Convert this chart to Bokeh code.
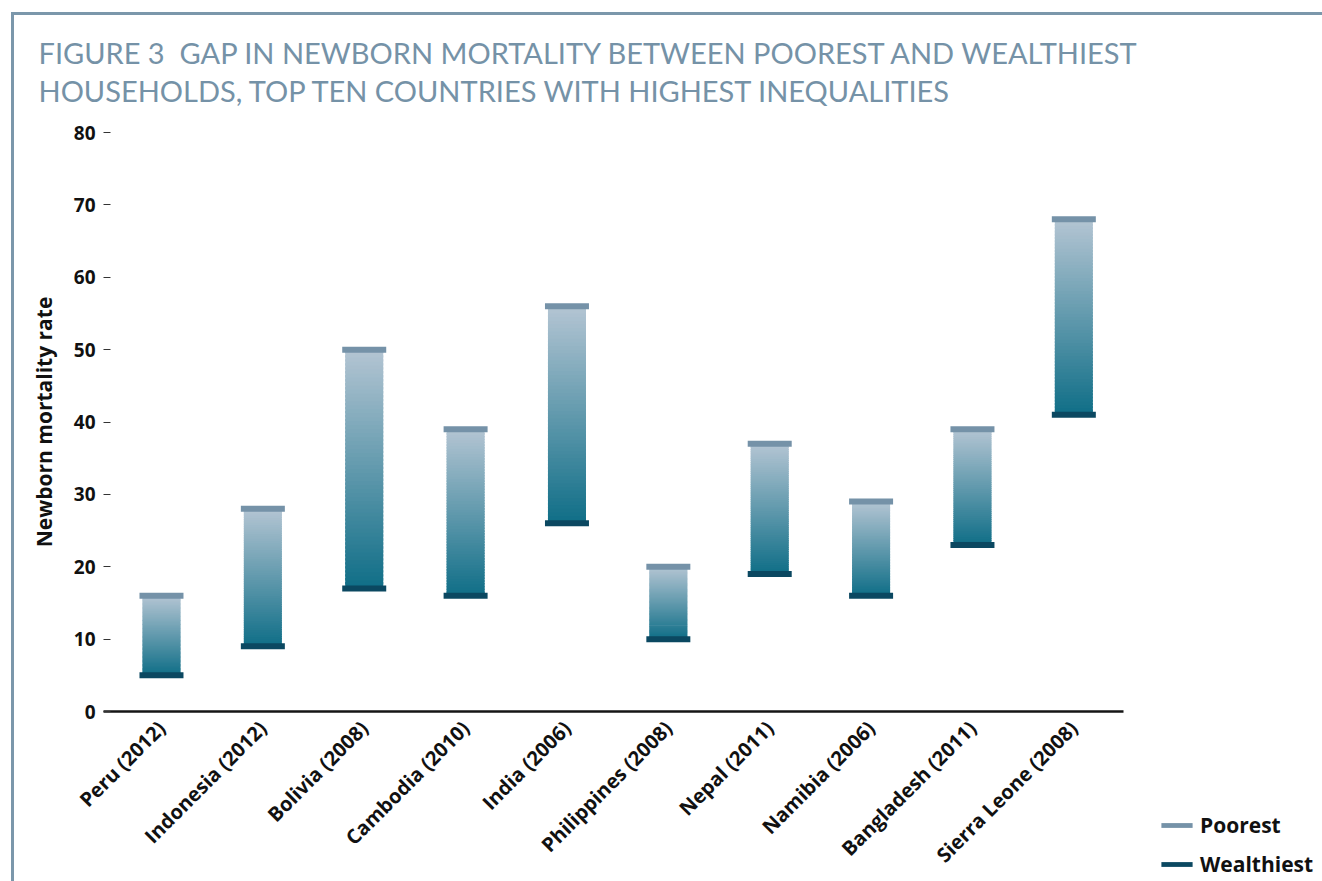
import numpy as np
from bokeh.plotting import figure
from bokeh.layouts import row
from bokeh.models import Range1d, FixedTicker, Legend, LegendItem, ColumnDataSource, Title
from bokeh.embed import file_html
from bokeh.resources import INLINE

# ---- data ----
countries = ["Peru (2012)", "Indonesia (2012)", "Bolivia (2008)", "Cambodia (2010)", "India (2006)",
             "Philippines (2008)", "Nepal (2011)", "Namibia (2006)", "Bangladesh (2011)", "Sierra Leone (2008)"]
poorest = [16, 28, 50, 39, 56, 20, 37, 29, 39, 68]
wealthiest = [5, 9, 17, 16, 26, 10, 19, 16, 23, 41]
y_ticks = [0, 10, 20, 30, 40, 50, 60, 70, 80]
series_names = ["Poorest", "Wealthiest"]
title_text = ("FIGURE 3 \u00a0GAP IN NEWBORN MORTALITY BETWEEN POOREST AND WEALTHIEST\n"
              "HOUSEHOLDS, TOP TEN COUNTRIES WITH HIGHEST INEQUALITIES")

# ---- styles ----
TFONT = "Lato"
FONT = "Open Sans"
FS_TICK = "19px"
FS_X = "20px"
FS = "21px"
TITLE_COLOR = "#7592a7"
FRAME_COLOR = "#7b97ab"
POOR_COLOR = "#7592a8"
WEALTH_COLOR = "#0b4861"
TEXT_COLOR = "#111111"
GRAD_TOP = (180, 197, 211)
GRAD_BOT = (15, 110, 135)

OX, OY = 14, 15          # content offset on the page (after css border)
LIFT = 6                 # main canvas is lifted a little under the border line
SPLIT = 1150             # page x where the legend panel starts
PY = OY - LIFT
W, H = SPLIT - OX, 881 - PY
FL, FR, FT, FB = 103 - OX, 1123 - OX, 132 - PY, 711 - PY

p = figure(width=W, height=H, output_backend="svg", toolbar_location=None, title=None,
           x_range=Range1d(-0.572, 9.49), y_range=Range1d(0, 80),
           min_border_left=FL, min_border_right=W - FR, min_border_top=FT, min_border_bottom=H - FB)
p.styles = {"margin-top": "-%dpx" % LIFT}
p.background_fill_alpha = 0
p.border_fill_alpha = 0
p.outline_line_color = None
p.grid.grid_line_color = None

# gradient bars built from slices
N = 60
bx, bbot, btop, bcol = [], [], [], []
for i, (hi, lo) in enumerate(zip(poorest, wealthiest)):
    edges = np.linspace(lo, hi, N + 1)
    step = (hi - lo) / N
    for k in range(N):
        t = (k + 0.5) / N
        c = tuple(int(round(GRAD_BOT[j] + (GRAD_TOP[j] - GRAD_BOT[j]) * t)) for j in range(3))
        bx.append(i)
        bbot.append(edges[k])
        btop.append(min(edges[k + 1] + step * 0.6, hi))
        bcol.append("#%02x%02x%02x" % c)
src = ColumnDataSource(dict(x=bx, bottom=bbot, top=btop, color=bcol))
p.vbar(x="x", width=0.375, bottom="bottom", top="top", fill_color="color", line_color=None, source=src)

idx = list(range(len(countries)))
p.rect(x=idx, y=poorest, width=0.434, height=6, height_units="screen",
       fill_color=POOR_COLOR, line_color=None)
p.rect(x=idx, y=wealthiest, width=0.434, height=6, height_units="screen",
       fill_color=WEALTH_COLOR, line_color=None)

# axes
p.xaxis.ticker = FixedTicker(ticks=idx)
p.xaxis.major_label_overrides = {i: c for i, c in enumerate(countries)}
p.xaxis.major_label_orientation = np.pi / 4
p.xaxis.major_tick_line_color = None
p.xaxis.minor_tick_line_color = None
p.xaxis.axis_line_color = "#151515"
p.xaxis.axis_line_width = 2.5
p.xaxis.major_label_standoff = 7
p.xaxis.major_label_text_font = FONT
p.xaxis.major_label_text_font_style = "bold"
p.xaxis.major_label_text_font_size = FS_X
p.xaxis.major_label_text_color = TEXT_COLOR

p.yaxis.ticker = FixedTicker(ticks=y_ticks)
p.yaxis.axis_line_color = None
p.yaxis.major_tick_in = 7
p.yaxis.major_tick_out = 0
p.yaxis.major_tick_line_color = "#333333"
p.yaxis.minor_tick_line_color = None
p.yaxis.major_label_standoff = 8
p.yaxis.major_label_text_font = FONT
p.yaxis.major_label_text_font_style = "bold"
p.yaxis.major_label_text_font_size = FS_TICK
p.yaxis.major_label_text_color = TEXT_COLOR
p.yaxis.axis_label = "Newborn mortality rate"
p.yaxis.axis_label_text_font = FONT
p.yaxis.axis_label_text_font_style = "bold"
p.yaxis.axis_label_text_font_size = FS
p.yaxis.axis_label_text_color = TEXT_COLOR
p.yaxis.axis_label_standoff = 13

# title (two lines)
p.add_layout(Title(text=title_text, align="left", offset=38 - 103, standoff=48,
                   text_font=TFONT, text_font_size="29px", text_font_style="normal",
                   text_color=TITLE_COLOR, text_line_height=1.09), "above")

# legend panel at the right (proxies reuse the data, kept outside this panel's visible range)
pl = figure(width=1322 - SPLIT, height=881 - OY, output_backend="svg", toolbar_location=None, title=None,
            x_range=Range1d(0, 1), y_range=Range1d(0, 1), x_axis_location=None, y_axis_location=None,
            min_border_left=0, min_border_right=0, min_border_top=0, min_border_bottom=0)
if "frame_align" in pl.properties():
    pl.frame_align = False
    p.frame_align = False
pl.outline_line_color = None
pl.background_fill_alpha = 0
pl.border_fill_alpha = 0
pl.xgrid.visible = False
pl.ygrid.visible = False
lp = pl.rect(x=idx, y=poorest, width=0.1, height=0.1, fill_color=POOR_COLOR, line_color=None)
lw = pl.rect(x=idx, y=wealthiest, width=0.1, height=0.1, fill_color=WEALTH_COLOR, line_color=None)
legend = Legend(items=[LegendItem(label=series_names[0], renderers=[lp]),
                       LegendItem(label=series_names[1], renderers=[lw])],
                location=(7, 3), orientation="vertical",
                glyph_width=39, glyph_height=6, label_height=29, spacing=10,
                padding=0, margin=0, border_line_color=None, background_fill_alpha=0,
                label_standoff=4, label_text_font=FONT, label_text_font_style="bold",
                label_text_font_size=FS, label_text_color=TEXT_COLOR)
pl.add_layout(legend)

layout = row(p, pl)
layout.styles = {"margin-left": "11px", "margin-top": "12px", "background": "white",
                 "border-left": "3px solid " + FRAME_COLOR, "border-top": "3px solid " + FRAME_COLOR}

open("out.html", "w").write(file_html(layout, INLINE))
